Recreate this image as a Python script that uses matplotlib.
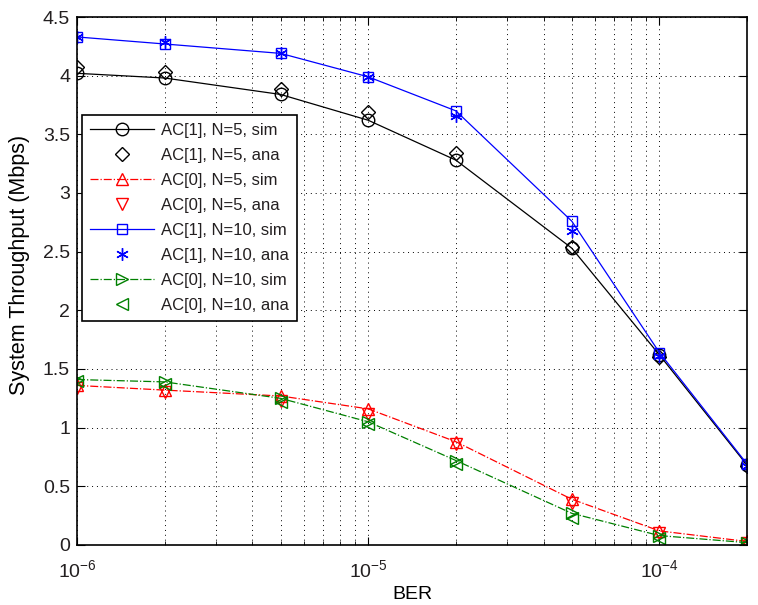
import matplotlib
matplotlib.use("Agg")
from matplotlib import pyplot as plt

# BER points (x axis)
ber = [1e-6, 2e-6, 5e-6, 1e-5, 2e-5, 5e-5, 1e-4, 2e-4]

# throughput in Mbps
ac1_n5_sim = [4.02, 3.98, 3.84, 3.62, 3.28, 2.53, 1.62, 0.68]
ac1_n5_ana = [4.07, 4.03, 3.89, 3.69, 3.34, 2.54, 1.60, 0.67]
ac0_n5_sim = [1.36, 1.32, 1.27, 1.16, 0.88, 0.39, 0.12, 0.03]
ac0_n5_ana = [1.34, 1.30, 1.23, 1.12, 0.86, 0.36, 0.10, 0.02]
ac1_n10_sim = [4.33, 4.27, 4.19, 3.99, 3.70, 2.76, 1.64, 0.69]
ac1_n10_ana = [4.33, 4.29, 4.19, 3.99, 3.66, 2.68, 1.61, 0.67]
ac0_n10_sim = [1.41, 1.39, 1.25, 1.05, 0.72, 0.27, 0.08, 0.02]
ac0_n10_ana = [1.40, 1.37, 1.22, 1.03, 0.69, 0.23, 0.06, 0.02]

GREEN = (0.0, 0.5, 0.0)
TEXT = '#231f20'

plt.rcParams['font.family'] = ['Liberation Sans', 'DejaVu Sans']
plt.rcParams['mathtext.fontset'] = 'custom'
plt.rcParams['mathtext.rm'] = 'Liberation Sans'
plt.rcParams['mathtext.it'] = 'Liberation Sans'
plt.rcParams['mathtext.default'] = 'regular'
plt.rcParams['font.size'] = 12
plt.rcParams['text.color'] = TEXT
plt.rcParams['xtick.labelcolor'] = TEXT
plt.rcParams['ytick.labelcolor'] = TEXT

fig = plt.figure(figsize=(7.58, 6.05), dpi=100)
ax = fig.add_axes([0.1016, 0.0992, 0.884, 0.8727])

ms = 9
ax.plot(ber, ac1_n5_sim, linestyle='-', color='black', marker='o', ms=ms, mfc='none', lw=0.9,
        label='AC[1], N=5, sim')
ax.plot(ber, ac1_n5_ana, linestyle='none', color='black', marker='D', ms=ms * 0.8, mfc='none',
        label='AC[1], N=5, ana')
ax.plot(ber, ac0_n5_sim, linestyle='-.', color='red', marker='^', ms=ms, mfc='none', lw=0.9,
        label='AC[0], N=5, sim')
ax.plot(ber, ac0_n5_ana, linestyle='none', color='red', marker='v', ms=ms, mfc='none',
        label='AC[0], N=5, ana')
ax.plot(ber, ac1_n10_sim, linestyle='-', color='blue', marker='s', ms=ms * 0.85, mfc='none', lw=0.9,
        label='AC[1], N=10, sim')
ax.plot(ber, ac1_n10_ana, linestyle='none', color='blue', marker=(6, 2, 0), ms=ms, mfc='none',
        label='AC[1], N=10, ana')
ax.plot(ber, ac0_n10_sim, linestyle='-.', color=GREEN, marker='>', ms=ms, mfc='none', lw=0.9,
        label='AC[0], N=10, sim')
ax.plot(ber, ac0_n10_ana, linestyle='none', color=GREEN, marker='<', ms=ms, mfc='none',
        label='AC[0], N=10, ana')

ax.set_xscale('log')
ax.set_xlim(1e-6, 2e-4)
ax.set_ylim(0, 4.5)
ax.set_xticks([1e-6, 1e-5, 1e-4])
ax.set_xticklabels(['$10^{-6}$', '$10^{-5}$', '$10^{-4}$'])
ax.set_yticks([0, 0.5, 1, 1.5, 2, 2.5, 3, 3.5, 4, 4.5])
ax.set_yticklabels(['0', '0.5', '1', '1.5', '2', '2.5', '3', '3.5', '4', '4.5'])

ax.grid(True, which='both', linestyle=(0, (1, 4)), color='black', lw=0.7)
ax.tick_params(which='both', direction='in', top=True, right=True, labelsize=14)
ax.tick_params(which='major', length=6)
ax.tick_params(axis='y', which='major', pad=5)
ax.tick_params(axis='x', which='major', pad=10)
ax.tick_params(which='minor', length=3)
for s in ax.spines.values():
    s.set_linewidth(1.2)

ax.set_xlabel('BER', fontsize=14, labelpad=4)
ax.set_ylabel('System Throughput (Mbps)', fontsize=15.5)
ax.yaxis.set_label_coords(-0.07, 0.53)

leg = ax.legend(loc='upper left', bbox_to_anchor=(0.0075, 0.815), fontsize=12,
                fancybox=False, edgecolor='black', framealpha=1,
                handlelength=3.8, handletextpad=0.45, labelspacing=0.6,
                borderaxespad=0.0, borderpad=0.5)
leg.get_frame().set_linewidth(1.2)

fig.savefig('out.png', dpi=100)
